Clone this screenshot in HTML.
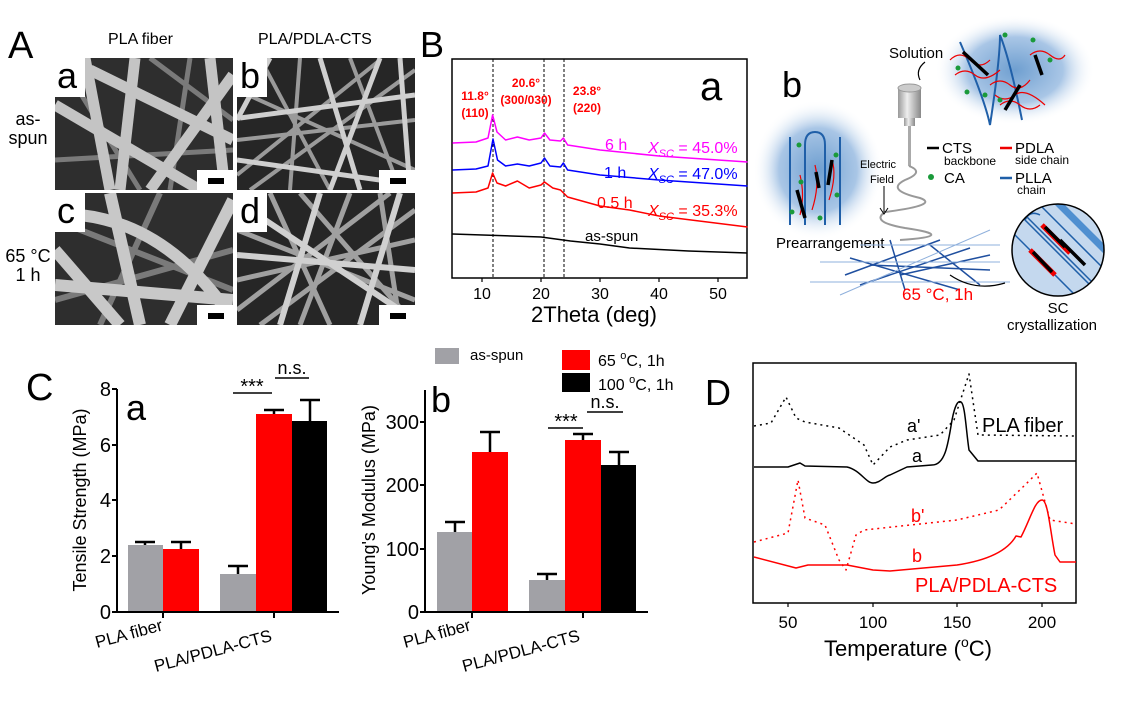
<!DOCTYPE html>
<html><head><meta charset="utf-8"><style>
body{margin:0;background:#fff;}
svg{display:block;font-family:"Liberation Sans",Arial,sans-serif;}
</style></head><body>
<svg width="1123" height="705" viewBox="0 0 1123 705" xmlns="http://www.w3.org/2000/svg">
<defs>
<clipPath id="ca"><rect x="55" y="58" width="178" height="132"/></clipPath>
<clipPath id="cb"><rect x="237" y="58" width="178" height="132"/></clipPath>
<clipPath id="cc"><rect x="55" y="193" width="178" height="132"/></clipPath>
<clipPath id="cd"><rect x="237" y="193" width="178" height="132"/></clipPath>
<clipPath id="circ"><circle cx="1058" cy="250" r="46"/></clipPath>
<radialGradient id="glow"><stop offset="0" stop-color="#6f9fd0"/><stop offset="0.6" stop-color="#a9c6e6"/><stop offset="1" stop-color="#fff" stop-opacity="0"/></radialGradient>
<linearGradient id="cyl" x1="0" x2="1"><stop offset="0" stop-color="#999"/><stop offset="0.4" stop-color="#eee"/><stop offset="1" stop-color="#888"/></linearGradient>
</defs>

<!-- Panel A -->
<text x="8" y="58" font-size="38">A</text>
<text x="108" y="44" font-size="16">PLA fiber</text>
<text x="258" y="44" font-size="16">PLA/PDLA-CTS</text>
<text x="28" y="125" font-size="18" text-anchor="middle">as-</text>
<text x="28" y="144" font-size="18" text-anchor="middle">spun</text>
<text x="28" y="262" font-size="18" text-anchor="middle">65 °C</text>
<text x="28" y="281" font-size="18" text-anchor="middle">1 h</text>

<g clip-path="url(#ca)"><rect x="55" y="58" width="178" height="132" fill="#2e2e2e"/>
<g stroke="#7a7a7a" stroke-width="5"><line x1="60" y1="60" x2="140" y2="190"/><line x1="150" y1="58" x2="233" y2="120"/><line x1="55" y1="160" x2="233" y2="150"/><line x1="190" y1="58" x2="170" y2="190"/></g>
<g stroke="#c4c4c4" stroke-width="11"><line x1="55" y1="105" x2="200" y2="190"/><line x1="135" y1="58" x2="120" y2="190"/><line x1="85" y1="58" x2="110" y2="190"/><line x1="233" y1="75" x2="150" y2="190"/><line x1="90" y1="70" x2="233" y2="140"/><line x1="210" y1="58" x2="225" y2="190"/></g></g>
<g clip-path="url(#cb)"><rect x="237" y="58" width="178" height="132" fill="#262626"/>
<g stroke="#9a9a9a" stroke-width="4"><line x1="237" y1="90" x2="415" y2="170"/><line x1="260" y1="58" x2="330" y2="190"/><line x1="415" y1="70" x2="250" y2="190"/><line x1="300" y1="58" x2="290" y2="190"/><line x1="237" y1="140" x2="415" y2="120"/><line x1="350" y1="58" x2="400" y2="190"/><line x1="237" y1="175" x2="380" y2="60"/></g>
<g stroke="#cfcfcf" stroke-width="5"><line x1="240" y1="118" x2="415" y2="95"/><line x1="320" y1="58" x2="360" y2="190"/><line x1="380" y1="58" x2="330" y2="190"/><line x1="237" y1="160" x2="415" y2="185"/><line x1="400" y1="58" x2="410" y2="190"/><line x1="270" y1="58" x2="237" y2="120"/></g></g>
<g clip-path="url(#cc)"><rect x="55" y="193" width="178" height="132" fill="#2e2e2e"/>
<g stroke="#7a7a7a" stroke-width="6"><line x1="55" y1="220" x2="233" y2="290"/><line x1="160" y1="193" x2="100" y2="325"/><line x1="55" y1="300" x2="233" y2="250"/></g>
<g stroke="#c8c8c8" stroke-width="12"><path d="M80 215 Q170 225 233 320" fill="none"/><line x1="55" y1="250" x2="120" y2="325"/><line x1="110" y1="193" x2="140" y2="325"/><line x1="233" y1="200" x2="170" y2="325"/><line x1="55" y1="285" x2="233" y2="300"/></g></g>
<g clip-path="url(#cd)"><rect x="237" y="193" width="178" height="132" fill="#262626"/>
<g stroke="#a0a0a0" stroke-width="5"><line x1="237" y1="230" x2="415" y2="300"/><line x1="270" y1="193" x2="330" y2="325"/><line x1="415" y1="210" x2="260" y2="325"/><line x1="300" y1="193" x2="415" y2="325"/><line x1="237" y1="280" x2="415" y2="240"/><line x1="350" y1="193" x2="300" y2="325"/><line x1="237" y1="310" x2="390" y2="193"/><line x1="380" y1="193" x2="400" y2="325"/></g>
<g stroke="#d0d0d0" stroke-width="6"><line x1="250" y1="210" x2="415" y2="320"/><line x1="237" y1="255" x2="415" y2="270"/><line x1="320" y1="193" x2="280" y2="325"/><line x1="400" y1="193" x2="360" y2="325"/></g></g>
<g fill="#fff"><rect x="55" y="58" width="30" height="39"/><rect x="237" y="58" width="30" height="39"/><rect x="55" y="193" width="30" height="39"/><rect x="237" y="193" width="30" height="39"/>
<rect x="197" y="170" width="36" height="20"/><rect x="379" y="170" width="36" height="20"/><rect x="197" y="305" width="36" height="20"/><rect x="379" y="305" width="36" height="20"/></g>
<g fill="#000"><rect x="208" y="178" width="16" height="6"/><rect x="390" y="178" width="16" height="6"/><rect x="208" y="313" width="16" height="6"/><rect x="390" y="313" width="16" height="6"/></g>
<g font-size="36"><text x="57" y="88">a</text><text x="240" y="88">b</text><text x="57" y="223">c</text><text x="240" y="223">d</text></g>

<!-- Panel B -->
<text x="420" y="57" font-size="36">B</text>
<rect x="452" y="59" width="295" height="219" fill="none" stroke="#000" stroke-width="1.5"/>
<g stroke="#000" stroke-width="1" stroke-dasharray="3,2"><line x1="493" y1="59" x2="493" y2="278"/><line x1="544" y1="59" x2="544" y2="278"/><line x1="564" y1="59" x2="564" y2="278"/></g>
<g stroke="#000" stroke-width="1.2"><line x1="482" y1="278" x2="482" y2="282"/><line x1="541" y1="278" x2="541" y2="282"/><line x1="600" y1="278" x2="600" y2="282"/><line x1="659" y1="278" x2="659" y2="282"/><line x1="718" y1="278" x2="718" y2="282"/></g>
<g font-size="16" text-anchor="middle"><text x="482" y="299">10</text><text x="541" y="299">20</text><text x="600" y="299">30</text><text x="659" y="299">40</text><text x="718" y="299">50</text></g>
<text x="594" y="322" font-size="22" text-anchor="middle">2Theta (deg)</text>
<g fill="none" stroke-width="1.5" stroke-linejoin="round">
<polyline stroke="#ff00ff" points="452.5,143 476,142 488,138 492.6,115 497,132 505.6,140 517.4,137 529.2,140 541,138 544.5,133 549.9,140 560.5,141 563.4,138 567.6,145 600,150 659,156 747.5,162"/>
<polyline stroke="#0000ff" points="452.5,170 476,169 488,166 493,139 497.5,160 505.6,166 517.4,164 529.2,166 541,163 544.5,158 549.9,166 560.5,167 563.4,163 567.6,170 600,175 659,180 747.5,186"/>
<polyline stroke="#ff0000" points="452.5,193 476,192 488,188 492.6,173 497,183 505.6,186 517.4,181 529.2,188 541,185 544.5,182 552.8,188 560.5,190 567.6,197 600,206 629.5,210 659,216 747.5,227"/>
<polyline stroke="#000" points="452.5,234 511.5,236 541,237 570.5,241 600,244 629.5,248 688.5,251 747.5,253"/>
</g>
<g fill="#ff0000" font-weight="bold" font-size="12" text-anchor="middle"><text x="475" y="100">11.8°</text><text x="475" y="117">(110)</text><text x="526" y="87">20.6°</text><text x="526" y="104">(300/030)</text><text x="587" y="95">23.8°</text><text x="587" y="112">(220)</text></g>
<text x="700" y="100" font-size="40">a</text>
<text x="605" y="150" font-size="16" fill="#ff00ff">6 h</text>
<text x="648" y="153" font-size="16" fill="#ff00ff"><tspan font-style="italic">X</tspan><tspan font-size="11" font-style="italic" dy="4">SC</tspan><tspan dy="-4"> = 45.0%</tspan></text>
<text x="604" y="178" font-size="16" fill="#0000ff">1 h</text>
<text x="648" y="179" font-size="16" fill="#0000ff"><tspan font-style="italic">X</tspan><tspan font-size="11" font-style="italic" dy="4">SC</tspan><tspan dy="-4"> = 47.0%</tspan></text>
<text x="597" y="208" font-size="16" fill="#ff0000">0.5 h</text>
<text x="648" y="216" font-size="16" fill="#ff0000"><tspan font-style="italic">X</tspan><tspan font-size="11" font-style="italic" dy="4">SC</tspan><tspan dy="-4"> = 35.3%</tspan></text>
<text x="585" y="241" font-size="15">as-spun</text>

<!-- schematic b -->
<text x="782" y="97" font-size="36">b</text>
<ellipse cx="1015" cy="70" rx="80" ry="55" fill="url(#glow)"/>
<ellipse cx="818" cy="170" rx="65" ry="70" fill="url(#glow)"/>
<g fill="none" stroke="#1f5fa8" stroke-width="2"><path d="M960 42 Q985 100 990 125 Q1000 60 1000 35 Q1010 60 1022 120"/><path d="M790 137 V225 M805 225 V145 Q805 132 815 132 Q825 132 825 145 V225 M840 137 V225"/></g>
<g fill="none" stroke="#e00" stroke-width="1.2"><path d="M950 60 q10 -10 20 0 t20 0"/><path d="M955 75 q10 -8 20 0 t25 -5"/><path d="M990 85 q10 -8 20 0 t20 -5"/><path d="M1000 105 q10 -8 20 0 t20 0"/><path d="M995 95 q10 8 20 0 t30 10"/><path d="M1030 55 q10 -8 20 0 t15 0"/><path d="M800 175 q5 20 0 40"/><path d="M815 165 q5 20 -3 45"/><path d="M832 160 q5 15 -3 40"/></g>
<g stroke="#000" stroke-width="3.5"><line x1="963" y1="52" x2="988" y2="75"/><line x1="1035" y1="55" x2="1042" y2="75"/><line x1="1020" y1="85" x2="1005" y2="110"/><line x1="797" y1="190" x2="805" y2="218"/><line x1="816" y1="172" x2="819" y2="188"/><line x1="832" y1="160" x2="828" y2="185"/></g>
<g fill="#1a9a3a"><circle cx="958" cy="68" r="2.5"/><circle cx="967" cy="92" r="2.5"/><circle cx="985" cy="95" r="2.5"/><circle cx="1005" cy="35" r="2.5"/><circle cx="1033" cy="40" r="2.5"/><circle cx="1050" cy="60" r="2.5"/><circle cx="1000" cy="100" r="2.5"/><circle cx="799" cy="145" r="2.5"/><circle cx="836" cy="155" r="2.5"/><circle cx="801" cy="182" r="2.5"/><circle cx="837" cy="195" r="2.5"/><circle cx="820" cy="218" r="2.5"/><circle cx="792" cy="212" r="2.5"/></g>
<text x="889" y="58" font-size="15">Solution</text>
<path d="M925 62 Q915 70 920 80" fill="none" stroke="#000" stroke-width="1.2"/>
<rect x="898" y="88" width="23" height="30" fill="url(#cyl)"/>
<ellipse cx="909.5" cy="88" rx="11.5" ry="4" fill="#ccc" stroke="#999"/>
<rect x="904" y="118" width="11" height="8" fill="url(#cyl)"/>
<rect x="908" y="126" width="3" height="40" fill="#aaa"/>
<path d="M909 166 Q925 172 905 180 Q885 190 920 198 Q940 205 885 212 Q870 222 905 228 Q960 236 900 240" fill="none" stroke="#999" stroke-width="2"/>
<text x="860" y="168" font-size="11">Electric</text>
<text x="870" y="183" font-size="11">Field</text>
<line x1="884" y1="186" x2="884" y2="212" stroke="#000"/><path d="M880 208 L884 214 L888 208" fill="none" stroke="#000"/>
<text x="776" y="248" font-size="15">Prearrangement</text>
<g stroke="#1f4f9f" stroke-width="1.5"><line x1="850" y1="258" x2="960" y2="290"/><line x1="860" y1="285" x2="970" y2="248"/><line x1="890" y1="240" x2="905" y2="290"/><line x1="870" y1="265" x2="990" y2="270"/><line x1="930" y1="245" x2="980" y2="285"/><line x1="845" y1="275" x2="940" y2="240"/><line x1="900" y1="275" x2="990" y2="255"/></g>
<g stroke="#8fb0dc" stroke-width="1"><line x1="810" y1="282" x2="1010" y2="282"/><line x1="820" y1="262" x2="1000" y2="262"/><line x1="840" y1="295" x2="990" y2="230"/><line x1="860" y1="245" x2="1000" y2="245"/></g>
<text x="902" y="300" font-size="17" fill="#ff0000">65 °C, 1h</text>
<path d="M950 275 Q975 292 1005 283" fill="none" stroke="#000" stroke-width="1.2"/>
<g clip-path="url(#circ)"><rect x="1010" y="200" width="100" height="100" fill="#c4d8ee"/>
<g stroke="#1f5fa8" stroke-width="1.5" fill="none"><line x1="1010" y1="230" x2="1080" y2="300"/><line x1="1020" y1="210" x2="1100" y2="290"/><line x1="1040" y1="205" x2="1110" y2="275"/><path d="M1040 215 Q1030 210 1025 220 L1095 290"/></g>
<line x1="1050" y1="195" x2="1120" y2="265" stroke="#4f8fd0" stroke-width="7"/>
<g stroke="#e00" stroke-width="5"><line x1="1042" y1="225" x2="1070" y2="253"/><line x1="1030" y1="250" x2="1055" y2="275"/></g>
<g stroke="#000" stroke-width="3.5"><line x1="1045" y1="227" x2="1065" y2="247"/><line x1="1060" y1="240" x2="1085" y2="265"/><line x1="1033" y1="252" x2="1052" y2="272"/></g></g>
<circle cx="1058" cy="250" r="46" fill="none" stroke="#000" stroke-width="1.5"/>
<text x="1058" y="313" font-size="15" text-anchor="middle">SC</text>
<text x="1052" y="330" font-size="15" text-anchor="middle">crystallization</text>
<line x1="927" y1="148" x2="939" y2="148" stroke="#000" stroke-width="2.5"/><text x="942" y="153" font-size="15">CTS</text><text x="944" y="165" font-size="12">backbone</text>
<line x1="1000" y1="148" x2="1012" y2="148" stroke="#e00" stroke-width="2.5"/><text x="1015" y="153" font-size="15">PDLA</text><text x="1015" y="164" font-size="12">side chain</text>
<circle cx="931" cy="177" r="3" fill="#1a9a3a"/><text x="944" y="183" font-size="15">CA</text>
<line x1="1000" y1="178" x2="1012" y2="178" stroke="#1f5fa8" stroke-width="2.5"/><text x="1015" y="183" font-size="15">PLLA</text><text x="1017" y="194" font-size="12">chain</text>

<!-- Panel C a -->
<text x="26" y="400" font-size="38">C</text>
<text x="126" y="420" font-size="36">a</text>
<g fill="#a1a1a6"><rect x="128" y="545" width="35" height="67"/><rect x="220" y="574" width="36" height="38"/></g>
<g fill="#ff0000"><rect x="163" y="549" width="36" height="63"/><rect x="256" y="414" width="36" height="198"/></g>
<rect x="292" y="421" width="35" height="191" fill="#000"/>
<g stroke="#000" stroke-width="2.5" fill="none"><path d="M145 545 V542 M135 542 H155"/><path d="M181 549 V542 M171 542 H191"/><path d="M238 574 V566 M228 566 H248"/><path d="M274 414 V410 M264 410 H284"/><path d="M310 421 V400 M300 400 H320"/></g>
<g stroke="#000" stroke-width="2"><line x1="117" y1="389" x2="117" y2="612"/><line x1="117" y1="612" x2="339" y2="612"/>
<line x1="112" y1="389" x2="117" y2="389"/><line x1="112" y1="445" x2="117" y2="445"/><line x1="112" y1="500" x2="117" y2="500"/><line x1="112" y1="556" x2="117" y2="556"/><line x1="112" y1="612" x2="117" y2="612"/><line x1="163" y1="612" x2="163" y2="618"/><line x1="274" y1="612" x2="274" y2="618"/></g>
<g font-size="20" text-anchor="end"><text x="111" y="396">8</text><text x="111" y="452">6</text><text x="111" y="507">4</text><text x="111" y="563">2</text><text x="111" y="619">0</text></g>
<text transform="translate(86,500) rotate(-90)" font-size="18" text-anchor="middle">Tensile Strength (MPa)</text>
<text transform="translate(97,648) rotate(-15)" font-size="17">PLA fiber</text>
<text transform="translate(156,672) rotate(-15)" font-size="17">PLA/PDLA-CTS</text>
<line x1="233" y1="393" x2="272" y2="393" stroke="#000" stroke-width="1.5"/><text x="252" y="393" font-size="20" text-anchor="middle">***</text>
<line x1="275" y1="378" x2="309" y2="378" stroke="#000" stroke-width="1.5"/><text x="292" y="374" font-size="18" text-anchor="middle">n.s.</text>

<!-- Panel C b -->
<rect x="435" y="348" width="24" height="16" fill="#a1a1a6"/><text x="470" y="360" font-size="15">as-spun</text>
<rect x="562" y="350" width="28" height="20" fill="#ff0000"/><text x="598" y="366" font-size="16">65 <tspan font-size="11" dy="-7">o</tspan><tspan dy="7">C, 1h</tspan></text>
<rect x="562" y="373" width="28" height="19" fill="#000"/><text x="598" y="390" font-size="16">100 <tspan font-size="11" dy="-7">o</tspan><tspan dy="7">C, 1h</tspan></text>
<text x="431" y="412" font-size="36">b</text>
<g fill="#a1a1a6"><rect x="437" y="532" width="35" height="80"/><rect x="529" y="580" width="36" height="32"/></g>
<g fill="#ff0000"><rect x="472" y="452" width="36" height="160"/><rect x="565" y="440" width="36" height="172"/></g>
<rect x="601" y="465" width="35" height="147" fill="#000"/>
<g stroke="#000" stroke-width="2.5" fill="none"><path d="M455 532 V522 M445 522 H465"/><path d="M490 452 V432 M480 432 H500"/><path d="M547 580 V574 M537 574 H557"/><path d="M583 440 V434 M573 434 H593"/><path d="M619 465 V452 M609 452 H629"/></g>
<g stroke="#000" stroke-width="2"><line x1="425" y1="390" x2="425" y2="612"/><line x1="425" y1="612" x2="648" y2="612"/>
<line x1="420" y1="422" x2="425" y2="422"/><line x1="420" y1="485" x2="425" y2="485"/><line x1="420" y1="549" x2="425" y2="549"/><line x1="420" y1="612" x2="425" y2="612"/><line x1="472" y1="612" x2="472" y2="618"/><line x1="583" y1="612" x2="583" y2="618"/></g>
<g font-size="20" text-anchor="end"><text x="419" y="429">300</text><text x="419" y="492">200</text><text x="419" y="556">100</text><text x="419" y="619">0</text></g>
<text transform="translate(375,500) rotate(-90)" font-size="18" text-anchor="middle">Young's Modulus (MPa)</text>
<text transform="translate(405,648) rotate(-15)" font-size="17">PLA fiber</text>
<text transform="translate(464,672) rotate(-15)" font-size="17">PLA/PDLA-CTS</text>
<line x1="548" y1="428" x2="583" y2="428" stroke="#000" stroke-width="1.5"/><text x="566" y="428" font-size="20" text-anchor="middle">***</text>
<line x1="587" y1="412" x2="623" y2="412" stroke="#000" stroke-width="1.5"/><text x="605" y="408" font-size="18" text-anchor="middle">n.s.</text>

<!-- Panel D -->
<text x="705" y="405" font-size="36">D</text>
<rect x="753" y="363" width="323" height="240" fill="none" stroke="#000" stroke-width="1.5"/>
<g stroke="#000" stroke-width="1.2"><line x1="788" y1="603" x2="788" y2="607"/><line x1="873" y1="603" x2="873" y2="607"/><line x1="957" y1="603" x2="957" y2="607"/><line x1="1042" y1="603" x2="1042" y2="607"/></g>
<g font-size="17" text-anchor="middle"><text x="788" y="628">50</text><text x="873" y="628">100</text><text x="957" y="628">150</text><text x="1042" y="628">200</text></g>
<text x="908" y="656" font-size="22" text-anchor="middle">Temperature (<tspan font-size="14" dy="-9">o</tspan><tspan dy="9">C)</tspan></text>
<g fill="none" stroke-width="1.5" stroke-linejoin="round">
<path stroke="#000" stroke-dasharray="2,4" d="M754 426 L771 423 L786 397 L796 418 L805 422 L839 428 L864 445 L873 465 L890 447 L907 440 L940 435 L954 420 L969 374 L978 435 L1076 436"/>
<path stroke="#000" d="M754 467 L788 467 L800 463 L805 466 L847 467 C860 470 866 483 873 483 C880 483 885 476 890 475 L907 467 L932 465 C945 465 948 445 952 420 C955 405 958 400 961 402 C965 404 966 430 969 450 L978 461 L1076 461"/>
<path stroke="#ff0000" stroke-dasharray="2,4" d="M754 542 L788 533 L798 480 L805 518 L825 525 L839 560 L846 570 L856 535 L864 530 L957 520 L999 510 L1025 485 L1037 473 L1050 520 L1076 524"/>
<path stroke="#ff0000" d="M754 557 L796 568 L808 565 L847 565 L873 570 L890 571 L957 565 C990 560 1008 550 1016 536 L1021 537 C1030 520 1035 500 1042 500 C1048 500 1050 530 1055 555 L1060 562 L1076 562"/>
</g>
<text x="907" y="432" font-size="18">a'</text>
<text x="982" y="432" font-size="20">PLA fiber</text>
<text x="912" y="462" font-size="18">a</text>
<text x="911" y="522" font-size="18" fill="#ff0000">b'</text>
<text x="912" y="562" font-size="18" fill="#ff0000">b</text>
<text x="915" y="592" font-size="20" fill="#ff0000">PLA/PDLA-CTS</text>
</svg>
</body></html>
